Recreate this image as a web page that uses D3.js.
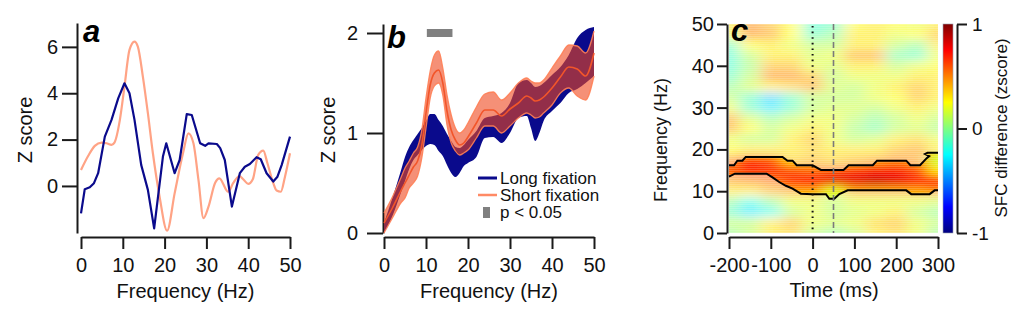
<!DOCTYPE html>
<html>
<head>
<meta charset="utf-8">
<script src="https://cdn.jsdelivr.net/npm/d3@7"></script>
<style>
body{margin:0;background:#fff;}
svg text{font-family:"Liberation Sans",Arial,sans-serif;}
</style>
</head>
<body>
<svg id="fig" width="1022" height="325"></svg>
<script>
// ---- panel a : Z score per frequency ----
var aLongFreq  = [0,0.9,2.1,3.1,4.1,5.7,7.3,8.9,10.4,11.6,12.8,14.4,16.0,17.5,19.6,20.4,22.4,23.6,25.3,26.5,28.5,29.7,30.5,32.5,33.3,34.4,36.1,38.0,39.2,40.4,42.0,43.0,44.4,46.0,47.0,48.0,50];
var aLongZ     = [-1.18,-0.14,-0.06,0.12,0.55,2.13,2.85,3.78,4.43,4.0,2.85,0.91,-0.17,-1.83,1.27,1.84,0.55,1.12,3.1,3.06,1.84,1.73,1.84,1.81,1.63,1.12,-0.89,0.55,0.83,0.95,1.24,1.15,0.55,0.19,0.4,0.9,2.13];
var aShortFreq = [0,1.7,3.3,4.9,6.1,7.3,8.0,9.3,10.4,11.6,12.8,13.6,14.8,16.0,17.2,18.8,20.6,22.4,24.4,25.7,26.9,28.1,29.3,30.5,32.1,33.1,35.2,36.4,37.9,38.8,40.0,41.1,42.4,43.6,44.6,46.0,46.8,47.8,48.8,50];
var aShortZ    = [0.69,1.29,1.73,1.87,1.84,1.77,1.87,2.85,4.29,5.87,6.23,6.01,4.72,3.14,1.41,-0.46,-1.93,-0.32,1.41,2.27,1.84,0.26,-1.39,-0.89,0.14,0.33,-0.25,0.12,0.43,0.29,0.09,0.29,1.34,1.52,0.98,0.12,-0.2,-0.25,0.4,1.41];

// ---- panel b : mean +- error bands ----
var bFreq    = [0,2,4,5,6,7,8,9,10,11,12,13,14,15,16,17,18,19,20,22,24,26,28,30,32,34,35,36,37,38,40,42,44,46,48,50];
var bLongLo  = [0.0,0.17,0.4,0.52,0.64,0.73,0.78,0.83,0.87,0.89,0.88,0.82,0.77,0.68,0.6,0.56,0.6,0.67,0.7,0.76,0.95,0.96,0.9,1.0,1.15,1.17,1.05,0.92,1.0,1.12,1.22,1.3,1.4,1.44,1.5,1.57];
var bLongHi  = [0.1,0.35,0.62,0.76,0.86,0.93,0.99,1.05,1.12,1.19,1.19,1.13,1.07,0.99,0.92,0.86,0.85,0.88,0.93,1.02,1.15,1.17,1.2,1.3,1.5,1.53,1.5,1.46,1.47,1.5,1.58,1.66,1.78,1.95,2.03,2.06];
var bShortLo = [0.0,0.15,0.3,0.35,0.45,0.5,0.57,0.75,1.05,1.35,1.47,1.5,1.38,1.08,0.9,0.82,0.78,0.8,0.83,0.95,1.07,1.07,1.0,1.07,1.15,1.2,1.18,1.15,1.16,1.2,1.28,1.4,1.45,1.37,1.33,1.57];
var bShortMean = [0.1,0.25,0.42,0.5,0.58,0.66,0.72,0.88,1.2,1.48,1.6,1.63,1.5,1.22,1.03,0.93,0.88,0.9,0.96,1.1,1.23,1.23,1.17,1.24,1.3,1.37,1.35,1.32,1.33,1.36,1.45,1.56,1.66,1.64,1.57,1.8];
var bShortHi = [0.2,0.36,0.55,0.65,0.72,0.8,0.86,1.03,1.35,1.62,1.78,1.82,1.65,1.38,1.18,1.05,1.0,1.03,1.1,1.26,1.39,1.41,1.33,1.4,1.5,1.55,1.52,1.5,1.5,1.53,1.65,1.77,1.88,1.87,1.8,2.02];
var bSigFreq = [10.2, 16.3];

// ---- panel c : SFC difference map (rows = frequency, cols = time) ----
var cTimes = [-200,-150,-100,-50,0,50,100,150,200,250,300];
var cFreqs = [50,47.5,45,42.5,40,37.5,35,32.5,30,27.5,25,22.5,20,17.5,15,12.5,10,7.5,5,2.5,0];
var cValues = [
  [0.3, 0.5, 0.4, 0.25, -0.15, -0.1, 0.25, 0.3, 0.25, 0.2, 0.3],
  [0.2, 0.5, 0.45, 0.25, -0.1, 0.0, 0.3, 0.3, 0.2, 0.25, 0.4],
  [-0.1, 0.25, 0.3, 0.2, 0.1, 0.1, 0.3, 0.3, 0.1, 0.0, 0.3],
  [-0.15, 0.1, 0.3, 0.3, 0.15, 0.2, 0.45, 0.45, -0.05, -0.1, 0.2],
  [-0.15, 0.05, 0.4, 0.4, 0.2, 0.15, 0.3, 0.3, 0.1, 0.2, 0.25],
  [-0.1, 0.1, 0.5, 0.5, 0.4, 0.1, 0.2, 0.2, 0.2, 0.3, 0.3],
  [0.0, 0.15, 0.3, 0.35, 0.45, 0.15, 0.1, 0.2, 0.3, 0.4, 0.3],
  [0.1, -0.1, -0.35, -0.1, 0.1, 0.1, 0.1, 0.2, 0.25, 0.4, 0.3],
  [0.2, -0.1, -0.3, -0.1, 0.1, 0.15, 0.15, 0.1, 0.2, 0.3, 0.2],
  [0.45, 0.15, 0.0, 0.1, 0.2, 0.2, 0.1, 0.0, 0.1, 0.2, 0.1],
  [0.45, 0.25, 0.1, 0.2, 0.3, 0.2, 0.05, -0.05, 0.1, 0.15, 0.05],
  [0.2, 0.1, 0.1, 0.3, 0.4, 0.2, 0.1, 0.15, 0.3, 0.35, 0.2],
  [0.25, 0.3, 0.3, 0.3, 0.35, 0.3, 0.3, 0.3, 0.4, 0.45, 0.3],
  [0.5, 0.65, 0.6, 0.35, 0.4, 0.35, 0.4, 0.45, 0.5, 0.45, 0.15],
  [0.6, 0.7, 0.65, 0.6, 0.55, 0.6, 0.65, 0.7, 0.7, 0.6, 0.3],
  [0.45, 0.5, 0.55, 0.65, 0.75, 0.8, 0.8, 0.85, 0.8, 0.7, 0.7],
  [0.3, 0.3, 0.4, 0.45, 0.45, 0.2, 0.45, 0.45, 0.45, 0.45, 0.5],
  [0.0, -0.2, 0.0, 0.2, 0.2, 0.1, 0.2, 0.2, 0.2, 0.2, 0.15],
  [-0.1, -0.3, -0.2, 0.1, 0.2, 0.1, 0.15, 0.2, 0.3, 0.1, 0.0],
  [0.1, 0.1, 0.3, 0.4, 0.2, 0.15, 0.2, 0.35, 0.4, 0.2, 0.1],
  [0.0, 0.1, 0.3, 0.35, 0.1, 0.0, 0.1, 0.3, 0.35, 0.2, 0.0]
];
// significance contour (upper and lower edge)
var cUpperT = [-200,-188,-180,-168,-160,-72,-60,-48,-38,0,20,74,86,144,154,224,234,257,273,279,269,275,300];
var cUpperF = [16.2,16.2,17.3,17.3,18.2,18.2,17.3,17.3,16.2,16.2,15.1,15.1,16.2,16.2,17.3,17.3,16.2,16.2,17.9,18.4,18.9,19.2,19.2];
var cLowerT = [-200,-186,-110,-96,-80,-64,-48,-28,0,32,40,52,64,84,224,236,280,292,300];
var cLowerF = [13.5,14.2,14.2,13.3,12.2,11.3,10.6,9.4,9.3,9.3,8.2,8.2,9.3,10.2,10.2,9.3,9.3,10.2,10.2];
var cMarkers = [0, 50];
var cbTicks = [-1, 0, 1];

var NAVY = "#0a0a8c";
var SALMON_LINE = "#ffa385";
var INK = "#1a1a1a";

var svg = d3.select("#fig");
var defs = svg.append("defs");

// plain hyphen minus, as in the figure
var plain = function(d){ return String(d); };

function styleAxis(g, fs){
    g.attr("font-size", fs).attr("font-family", "Liberation Sans, Arial, sans-serif");
    g.selectAll("path,line").attr("stroke", INK).attr("stroke-width", 2);
    g.selectAll("text").attr("fill", "#111");
}
function leftAxis(scale, x, ticks, size, pad){
    var g = svg.append("g").attr("transform", "translate(" + x + ",0)")
        .call(d3.axisLeft(scale).tickValues(ticks).tickFormat(plain).tickSize(size).tickSizeOuter(0).tickPadding(pad));
    styleAxis(g, 20);
    return g;
}
function bottomAxis(scale, y, ticks){
    var g = svg.append("g").attr("transform", "translate(0," + y + ")")
        .call(d3.axisBottom(scale).tickValues(ticks).tickFormat(plain).tickSize(12).tickSizeOuter(0).tickPadding(9));
    styleAxis(g, 20);
    return g;
}
function vLabel(x, y, txt, fs){
    svg.append("text").attr("transform", "translate(" + x + "," + y + ") rotate(-90)")
        .attr("text-anchor", "middle").attr("font-size", fs).attr("fill", "#111").text(txt);
}
function hLabel(x, y, txt){
    svg.append("text").attr("x", x).attr("y", y).attr("text-anchor", "middle")
        .attr("font-size", 20).attr("fill", "#111").text(txt);
}
function panelLetter(x, y, l){
    svg.append("text").attr("x", x).attr("y", y).attr("font-size", 31)
        .attr("font-weight", "bold").attr("font-style", "italic").attr("fill", "#000").text(l);
}

/* ---------------- panel a ---------------- */
var xA = d3.scaleLinear().domain([0, 50]).range([81, 290]);
var yA = d3.scaleLinear().domain([-2.03, 7.03]).range([233, 23]);

leftAxis(yA, 77, [0, 2, 4, 6], 15, 4);
bottomAxis(xA, 237, [0, 10, 20, 30, 40, 50]);

svg.append("path")
    .attr("d", d3.line().x(function(d, i){ return xA(aShortFreq[i]); }).y(function(d){ return yA(d); })
        .curve(d3.curveMonotoneX)(aShortZ))
    .attr("fill", "none").attr("stroke", SALMON_LINE).attr("stroke-width", 2.2);
svg.append("path")
    .attr("d", d3.line().x(function(d, i){ return xA(aLongFreq[i]); }).y(function(d){ return yA(d); })(aLongZ))
    .attr("fill", "none").attr("stroke", NAVY).attr("stroke-width", 2.2).attr("stroke-linejoin", "round");

panelLetter(83, 42, "a");
vLabel(32, 130, "Z score", 20);
hLabel(185.5, 298, "Frequency (Hz)");

/* ---------------- panel b ---------------- */
var xB = d3.scaleLinear().domain([0, 50]).range([384, 594]);
var yB = d3.scaleLinear().domain([0, 2.09]).range([233, 24]);

leftAxis(yB, 383, [0, 1, 2], 16, 9);
bottomAxis(xB, 237, [0, 10, 20, 30, 40, 50]);

function band(lo, hi){
    return d3.area()
        .x(function(d, i){ return xB(bFreq[i]); })
        .y0(function(d, i){ return yB(lo[i]); })
        .y1(function(d, i){ return yB(hi[i]); })
        .curve(d3.curveMonotoneX)(bFreq);
}
function bLine(vals){
    return d3.line().x(function(d, i){ return xB(bFreq[i]); }).y(function(d){ return yB(d); })
        .curve(d3.curveMonotoneX)(vals);
}

svg.append("path").attr("d", band(bLongLo, bLongHi)).attr("fill", NAVY);
svg.append("path").attr("d", band(bShortLo, bShortHi)).attr("fill", "rgb(238,70,28)").attr("fill-opacity", 0.6);
[bShortLo, bShortHi].forEach(function(v){
    svg.append("path").attr("d", bLine(v)).attr("fill", "none")
        .attr("stroke", "#ff7f55").attr("stroke-width", 1.3).attr("stroke-opacity", 0.9);
});
svg.append("path").attr("d", bLine(bShortMean)).attr("fill", "none")
    .attr("stroke", "#f2552a").attr("stroke-width", 1.6);

// significance bar
svg.append("rect").attr("x", xB(bSigFreq[0])).attr("width", xB(bSigFreq[1]) - xB(bSigFreq[0]))
    .attr("y", yB(2) - 4).attr("height", 8).attr("fill", "#808080");

// legend
var leg = svg.append("g").attr("font-size", 17).attr("fill", "#111");
leg.append("line").attr("x1", 478).attr("x2", 497).attr("y1", 178).attr("y2", 178).attr("stroke", NAVY).attr("stroke-width", 3);
leg.append("text").attr("x", 500).attr("y", 184).text("Long fixation");
leg.append("line").attr("x1", 478).attr("x2", 497).attr("y1", 195).attr("y2", 195).attr("stroke", "#ff8a65").attr("stroke-width", 2.5);
leg.append("text").attr("x", 500).attr("y", 201).text("Short fixation");
leg.append("rect").attr("x", 483).attr("y", 207).attr("width", 7).attr("height", 11).attr("fill", "#808080");
leg.append("text").attr("x", 500).attr("y", 218).text("p < 0.05");

panelLetter(387, 48, "b");
vLabel(335, 130, "Z score", 20);
hLabel(489, 298, "Frequency (Hz)");

/* ---------------- panel c ---------------- */
var xC = d3.scaleLinear().domain([-200, 300]).range([729, 938]);
var yC = d3.scaleLinear().domain([0, 50]).range([233, 24]);
var jet = d3.scaleLinear().domain([-1, -0.75, -0.25, 0.25, 0.75, 1])
    .range(["#00007f", "#0000ff", "#00ffff", "#ffff00", "#ff0000", "#7f0000"]).clamp(true);

var x0 = xC(-200), x1 = xC(300), y0 = yC(50), y1 = yC(0);

defs.append("clipPath").attr("id", "plotClip").append("rect")
    .attr("x", x0).attr("y", y0).attr("width", x1 - x0).attr("height", y1 - y0);

var bandPts = cUpperT.map(function(t, i){ return [t, cUpperF[i]]; })
    .concat(cLowerT.map(function(t, i){ return [t, cLowerF[i]]; }).reverse());
var contourLine = d3.line().x(function(d){ return xC(d[0]); }).y(function(d){ return yC(d[1]); });
defs.append("clipPath").attr("id", "bandClip").append("path").attr("d", contourLine(bandPts) + "Z");

var blur = defs.append("filter").attr("id", "soft").attr("filterUnits", "userSpaceOnUse")
    .attr("x", x0).attr("y", y0).attr("width", x1 - x0).attr("height", y1 - y0);
blur.append("feGaussianBlur").attr("stdDeviation", "7 4").attr("edgeMode", "duplicate");

var stripes = defs.append("pattern").attr("id", "stripes").attr("patternUnits", "userSpaceOnUse")
    .attr("width", 4).attr("height", 2);
stripes.append("rect").attr("width", 4).attr("height", 1).attr("fill", "#fff");

var cells = [];
cFreqs.forEach(function(f, r){
    cTimes.forEach(function(t, c){ cells.push({t: t, f: f, v: cValues[r][c]}); });
});

function drawCells(g){
    g.selectAll("rect").data(cells).enter().append("rect")
        .attr("x", function(d){ return xC(d.t - 25); })
        .attr("width", function(d){ return xC(d.t + 25) - xC(d.t - 25) + 0.5; })
        .attr("y", function(d){ return yC(d.f + 1.25); })
        .attr("height", function(d){ return yC(d.f - 1.25) - yC(d.f + 1.25) + 0.5; })
        .attr("fill", function(d){ return jet(d.v); });
}

var faded = svg.append("g").attr("clip-path", "url(#plotClip)").attr("opacity", 0.55);
drawCells(faded.append("g").attr("filter", "url(#soft)"));
var strong = svg.append("g").attr("clip-path", "url(#bandClip)");
drawCells(strong.append("g").attr("filter", "url(#soft)"));
svg.append("rect").attr("x", x0).attr("y", y0).attr("width", x1 - x0).attr("height", y1 - y0)
    .attr("fill", "url(#stripes)").attr("opacity", 0.18);

// contour edges
[[cUpperT, cUpperF], [cLowerT, cLowerF]].forEach(function(e){
    svg.append("path").attr("d", contourLine(e[0].map(function(t, i){ return [t, e[1][i]]; })))
        .attr("fill", "none").attr("stroke", "#000").attr("stroke-width", 2);
});

// event markers
svg.append("line").attr("x1", xC(cMarkers[0])).attr("x2", xC(cMarkers[0])).attr("y1", y0 + 2).attr("y2", y1)
    .attr("stroke", "#111").attr("stroke-width", 2).attr("stroke-dasharray", "1.6,4");
svg.append("line").attr("x1", xC(cMarkers[1])).attr("x2", xC(cMarkers[1])).attr("y1", y0).attr("y2", y1)
    .attr("stroke", "#7a7a7a").attr("stroke-width", 1.6).attr("stroke-dasharray", "6,3");

leftAxis(yC, 727, [0, 10, 20, 30, 40, 50], 10, 3);
bottomAxis(xC, 237, [-200, -100, 0, 100, 200, 300]);

// colour bar
var cbY = d3.scaleLinear().domain([-1, 1]).range([233, 24]);
var grad = defs.append("linearGradient").attr("id", "jetGrad")
    .attr("x1", 0).attr("y1", 1).attr("x2", 0).attr("y2", 0);
jet.domain().forEach(function(v){
    grad.append("stop").attr("offset", (v + 1) / 2).attr("stop-color", jet(v));
});
svg.append("rect").attr("x", 943).attr("y", 24).attr("width", 10).attr("height", 209)
    .attr("fill", "url(#jetGrad)").attr("stroke", "#9aa0b0").attr("stroke-width", 0.6);
var cbAxis = svg.append("g").attr("transform", "translate(957,0)")
    .call(d3.axisRight(cbY).tickValues(cbTicks).tickSize(10).tickSizeOuter(0).tickPadding(5)
        .tickFormat(plain));
styleAxis(cbAxis, 19);

panelLetter(731, 41, "c");
vLabel(667, 140, "Frequency (Hz)", 18);
hLabel(834, 297, "Time (ms)");
vLabel(1007, 128, "SFC difference (zscore)", 17);
</script>
</body>
</html>
